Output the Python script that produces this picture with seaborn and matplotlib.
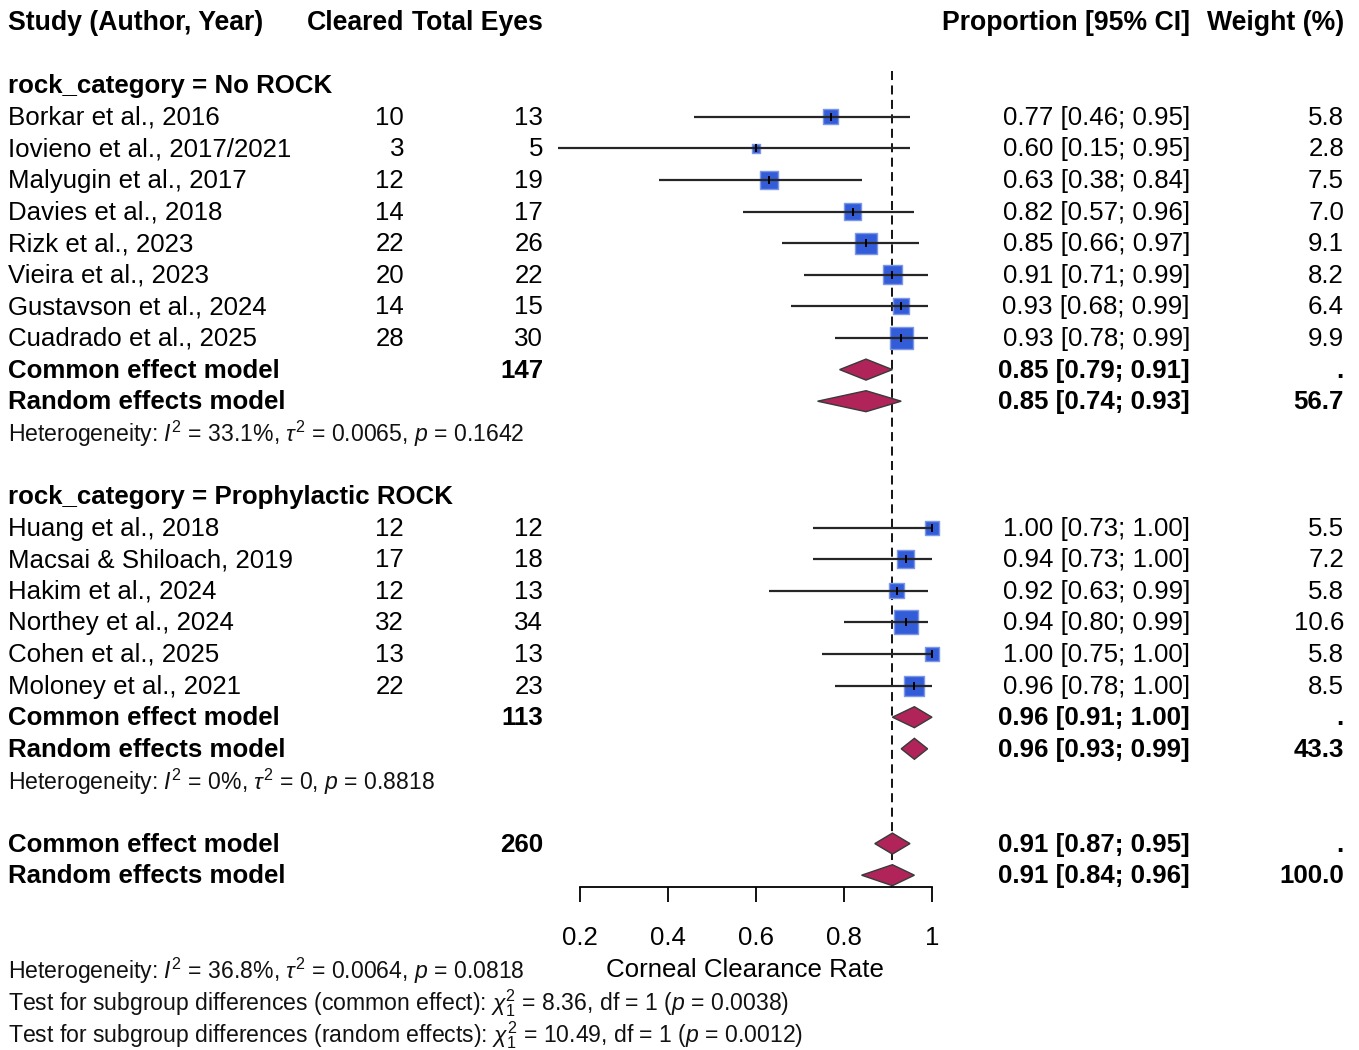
import matplotlib
matplotlib.use("Agg")
import matplotlib.pyplot as plt
from matplotlib import font_manager
import seaborn as sns
import numpy as np
import pandas as pd

# ---------------- data ----------------
no_studies = ["Borkar et al., 2016", "Iovieno et al., 2017/2021", "Malyugin et al., 2017",
              "Davies et al., 2018", "Rizk et al., 2023", "Vieira et al., 2023",
              "Gustavson et al., 2024", "Cuadrado et al., 2025"]
no_cleared = [10, 3, 12, 14, 22, 20, 14, 28]
no_total = [13, 5, 19, 17, 26, 22, 15, 30]
no_prop = [0.77, 0.60, 0.63, 0.82, 0.85, 0.91, 0.93, 0.93]
no_lo = [0.46, 0.15, 0.38, 0.57, 0.66, 0.71, 0.68, 0.78]
no_hi = [0.95, 0.95, 0.84, 0.96, 0.97, 0.99, 0.99, 0.99]
no_weight = [5.8, 2.8, 7.5, 7.0, 9.1, 8.2, 6.4, 9.9]

pr_studies = ["Huang et al., 2018", "Macsai & Shiloach, 2019", "Hakim et al., 2024",
              "Northey et al., 2024", "Cohen et al., 2025", "Moloney et al., 2021"]
pr_cleared = [12, 17, 12, 32, 13, 22]
pr_total = [12, 18, 13, 34, 13, 23]
pr_prop = [1.00, 0.94, 0.92, 0.94, 1.00, 0.96]
pr_lo = [0.73, 0.73, 0.63, 0.80, 0.75, 0.78]
pr_hi = [1.00, 1.00, 0.99, 0.99, 1.00, 1.00]
pr_weight = [5.5, 7.2, 5.8, 10.6, 5.8, 8.5]

# summaries: (estimate, lower, upper)
no_common = (0.85, 0.79, 0.91)
no_random = (0.85, 0.74, 0.93)
no_n = 147
no_rweight = "56.7"
pr_common = (0.96, 0.91, 1.00)
pr_random = (0.96, 0.93, 0.99)
pr_n = 113
pr_rweight = "43.3"
all_common = (0.91, 0.87, 0.95)
all_random = (0.91, 0.84, 0.96)
all_n = 260
all_rweight = "100.0"

no_het = r"Heterogeneity: $I^2$ = 33.1%, $\tau^2$ = 0.0065, $p$ = 0.1642"
pr_het = r"Heterogeneity: $I^2$ = 0%, $\tau^2$ = 0, $p$ = 0.8818"
all_het = r"Heterogeneity: $I^2$ = 36.8%, $\tau^2$ = 0.0064, $p$ = 0.0818"
test_common = r"Test for subgroup differences (common effect): $\chi^2_1$ = 8.36, df = 1 ($p$ = 0.0038)"
test_random = r"Test for subgroup differences (random effects): $\chi^2_1$ = 10.49, df = 1 ($p$ = 0.0012)"

x_ticks = [0.2, 0.4, 0.6, 0.8, 1.0]
x_tick_labels = ["0.2", "0.4", "0.6", "0.8", "1"]
ref_line = 0.91

# ---------------- style ----------------
sns.set_theme(style="white")
plt.rcParams["font.family"] = ["Liberation Sans", "DejaVu Sans"]

installed = {f.name for f in font_manager.fontManager.ttflist}
if "Liberation Sans Narrow" in installed:
    NARROW_FAM = "Liberation Sans Narrow"
    NARROW_FS = 18.2
else:
    NARROW_FAM = "Liberation Sans"
    NARROW_FS = 16.6
plt.rcParams["mathtext.fontset"] = "custom"
plt.rcParams["mathtext.rm"] = NARROW_FAM
plt.rcParams["mathtext.it"] = NARROW_FAM + ":italic"
plt.rcParams["mathtext.bf"] = NARROW_FAM + ":bold"

W, H = 1359, 1050
ROW0, ROWH = 22.0, 31.6
ytop = -ROW0 / ROWH
ybot = (H - ROW0) / ROWH

FS = 18.6
FS_HEAD = 19.2
SQ_COL = "#335CD9"
SQ_EDGE = "#7C97E6"
DIA_COL = "#B0245A"
LINE_COL = "#262626"

fig = plt.figure(figsize=(W / 100, H / 100), dpi=100)
ax_t = fig.add_axes([0, 0, 1, 1])
ax_t.set_xlim(0, W)
ax_t.set_ylim(ybot, ytop)
ax_t.axis("off")

X_LO, X_HI = 0.15, 1.0
PX_LO, PX_HI = 558, 932
ax_f = fig.add_axes([PX_LO / W, 0, (PX_HI - PX_LO) / W, 1])
ax_f.set_xlim(X_LO, X_HI)
ax_f.set_ylim(ybot, ytop)
ax_f.patch.set_alpha(0)

# column positions (pixels)
C_NAME, C_CLR, C_TOT, C_CI, C_WT = 8, 404, 543, 1190, 1344


def txt(x, row, s, ha="left", bold=False, size=FS, **kw):
    ax_t.text(x, row + 0.03, s, ha=ha, va="center", fontsize=size,
              fontweight="bold" if bold else "normal", color="black", **kw)


def mtxt(x, row, s, ha="left"):
    ax_t.text(x, row + 0.29, s, ha=ha, va="baseline", fontsize=NARROW_FS,
              family=[NARROW_FAM, "DejaVu Sans"], color="#111111")


def ci_str(e, l, u):
    return f"{e:.2f} [{l:.2f}; {u:.2f}]"


# header
txt(C_NAME, 0, "Study (Author, Year)", bold=True, size=FS_HEAD)
txt(C_CLR, 0, "Cleared", ha="right", bold=True, size=FS_HEAD)
txt(C_TOT, 0, "Total Eyes", ha="right", bold=True, size=FS_HEAD)
txt(C_CI, 0, "Proportion [95% CI]", ha="right", bold=True, size=FS_HEAD)
txt(C_WT, 0, "Weight (%)", ha="right", bold=True, size=FS_HEAD)

axis_row = 27.37
HALF_DIA = 10.5 / ROWH


def draw_studies(start_row, names, clr, tot, prop, lo, hi, wt):
    rows = np.arange(start_row, start_row + len(names))
    df = pd.DataFrame({"row": rows, "prop": prop, "lo": lo, "hi": hi, "wt": wt})
    side_px = 3.6 + 1.92 * df["wt"].to_numpy()
    sizes = (side_px * 0.72) ** 2
    sns.scatterplot(data=df, x="prop", y="row", ax=ax_f, marker="s", s=sizes,
                    color=SQ_COL, edgecolor=SQ_EDGE, linewidth=1.0, zorder=3,
                    clip_on=False, legend=False)
    ax_f.hlines(df["row"], df["lo"], df["hi"], color=LINE_COL, lw=1.6, zorder=4,
                clip_on=False)
    ax_f.scatter(df["prop"], df["row"], marker="|", s=(7.5 * 0.72) ** 2,
                 color="black", linewidths=1.4, zorder=5, clip_on=False)
    for r, n, c, t, p, l, h, w in zip(rows, names, clr, tot, prop, lo, hi, wt):
        txt(C_NAME, r, n)
        txt(C_CLR, r, str(c), ha="right")
        txt(C_TOT, r, str(t), ha="right")
        txt(C_CI, r, ci_str(p, l, h), ha="right")
        txt(C_WT, r, f"{w:.1f}", ha="right")
    return rows[-1] + 1


def diamond(row, est):
    e, l, u = est
    ax_f.fill([l, e, u, e], [row, row - HALF_DIA, row, row + HALF_DIA],
              facecolor=DIA_COL, edgecolor="#3a3a3a", lw=1.0, zorder=4, clip_on=False)


def summary(row, common, random, n, rweight):
    txt(C_NAME, row, "Common effect model", bold=True)
    txt(C_TOT, row, str(n), ha="right", bold=True)
    txt(C_CI, row, ci_str(*common), ha="right", bold=True)
    txt(C_WT, row, ".", ha="right", bold=True)
    diamond(row, common)
    txt(C_NAME, row + 1, "Random effects model", bold=True)
    txt(C_CI, row + 1, ci_str(*random), ha="right", bold=True)
    txt(C_WT, row + 1, rweight, ha="right", bold=True)
    diamond(row + 1, random)


# subgroup 1
txt(C_NAME, 2, "rock_category = No ROCK", bold=True)
r = draw_studies(3, no_studies, no_cleared, no_total, no_prop, no_lo, no_hi, no_weight)
summary(r, no_common, no_random, no_n, no_rweight)
mtxt(C_NAME, r + 2, no_het)

# subgroup 2
txt(C_NAME, 15, "rock_category = Prophylactic ROCK", bold=True)
r = draw_studies(16, pr_studies, pr_cleared, pr_total, pr_prop, pr_lo, pr_hi, pr_weight)
summary(r, pr_common, pr_random, pr_n, pr_rweight)
mtxt(C_NAME, r + 2, pr_het)

# overall
summary(26, all_common, all_random, all_n, all_rweight)
mtxt(C_NAME, 30, all_het)
mtxt(C_NAME, 31, test_common)
mtxt(C_NAME, 32, test_random)

# reference line
ax_f.vlines(ref_line, 1.55, axis_row, colors="black", lw=1.3,
            linestyles=(0, (5, 3)), zorder=2)

# axis
for s in ["top", "left", "right"]:
    ax_f.spines[s].set_visible(False)
ax_f.spines["bottom"].set_position(("data", axis_row))
ax_f.spines["bottom"].set_bounds(0.2, 1.0)
ax_f.spines["bottom"].set_color("black")
ax_f.spines["bottom"].set_linewidth(1.3)
ax_f.set_yticks([])
ax_f.set_ylabel("")
ax_f.set_xticks(x_ticks)
ax_f.set_xticklabels(x_tick_labels)
ax_f.tick_params(axis="x", direction="out", length=10.8, width=1.3, pad=17,
                 labelsize=FS, colors="black", bottom=True)
ax_f.set_xlabel("Corneal Clearance Rate", fontsize=FS, labelpad=6, color="black")
ax_f.grid(False)

fig.savefig("out.png", dpi=100, facecolor="white")
